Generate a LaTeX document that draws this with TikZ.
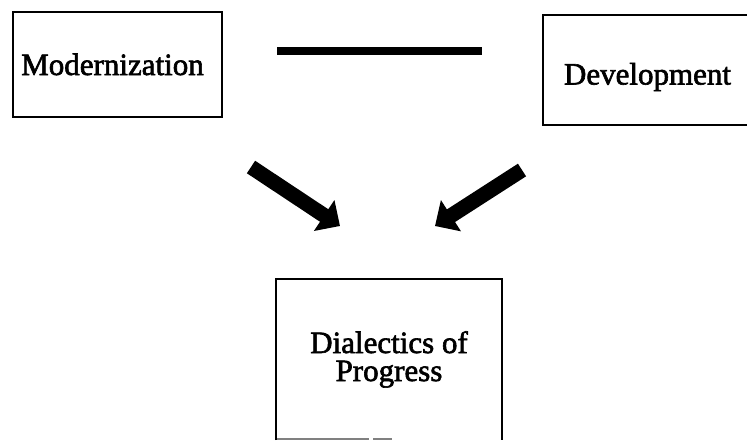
\documentclass[tikz,border=0pt]{standalone}
\usepackage{fontspec}
\newfontfamily\lblfont{Liberation Serif}[FakeBold=2]
\usetikzlibrary{arrows.meta}
\tikzset{
  frame/.style={draw, line width=2.5pt},
  lbl/.style={font=\lblfont\fontsize{31}{28}\selectfont, inner sep=0pt, anchor=base},
  fatarrow/.style={line width=15pt, -{Triangle[length=19pt,width=36pt]}},
  bar/.style={line width=7.5pt},
  faint/.style={draw=gray, line width=1.2pt}
}
\begin{document}
\begin{tikzpicture}[x=1pt,y=-1pt]
\useasboundingbox (0,0) rectangle (747,440);
% Modernization box
\node[frame, minimum width=209pt, minimum height=105pt, inner sep=0pt] (mod) at (117.5,64.5) {};
\node[lbl] (modt) at (112.5,75) {Modernization};
% Development box (open at the right edge)
\draw[frame] (747,15) -- (543,15) -- (543,125) -- (747,125);
\node[lbl] (devt) at (647.5,84.5) {Development};
% bar between
\coordinate (b1) at (277,51);
\coordinate (b2) at (482,51);
\draw[bar] (b1) -- (b2);
% arrows
\coordinate (la1) at (251,167);
\coordinate (la2) at (340,226);
\coordinate (ra1) at (522,170);
\coordinate (ra2) at (435,226);
\draw[fatarrow] (la1) -- (la2);
\draw[fatarrow] (ra1) -- (ra2);
% Dialectics of Progress box
\draw[frame] (276,440) -- (276,279) -- (502,279) -- (502,440);
\draw[faint] (277,439) -- (369,439) (373,439) -- (392,439);
\node[lbl, align=center] (dia) at (389,381) {Dialectics of\\Progress};
\end{tikzpicture}
\end{document}
